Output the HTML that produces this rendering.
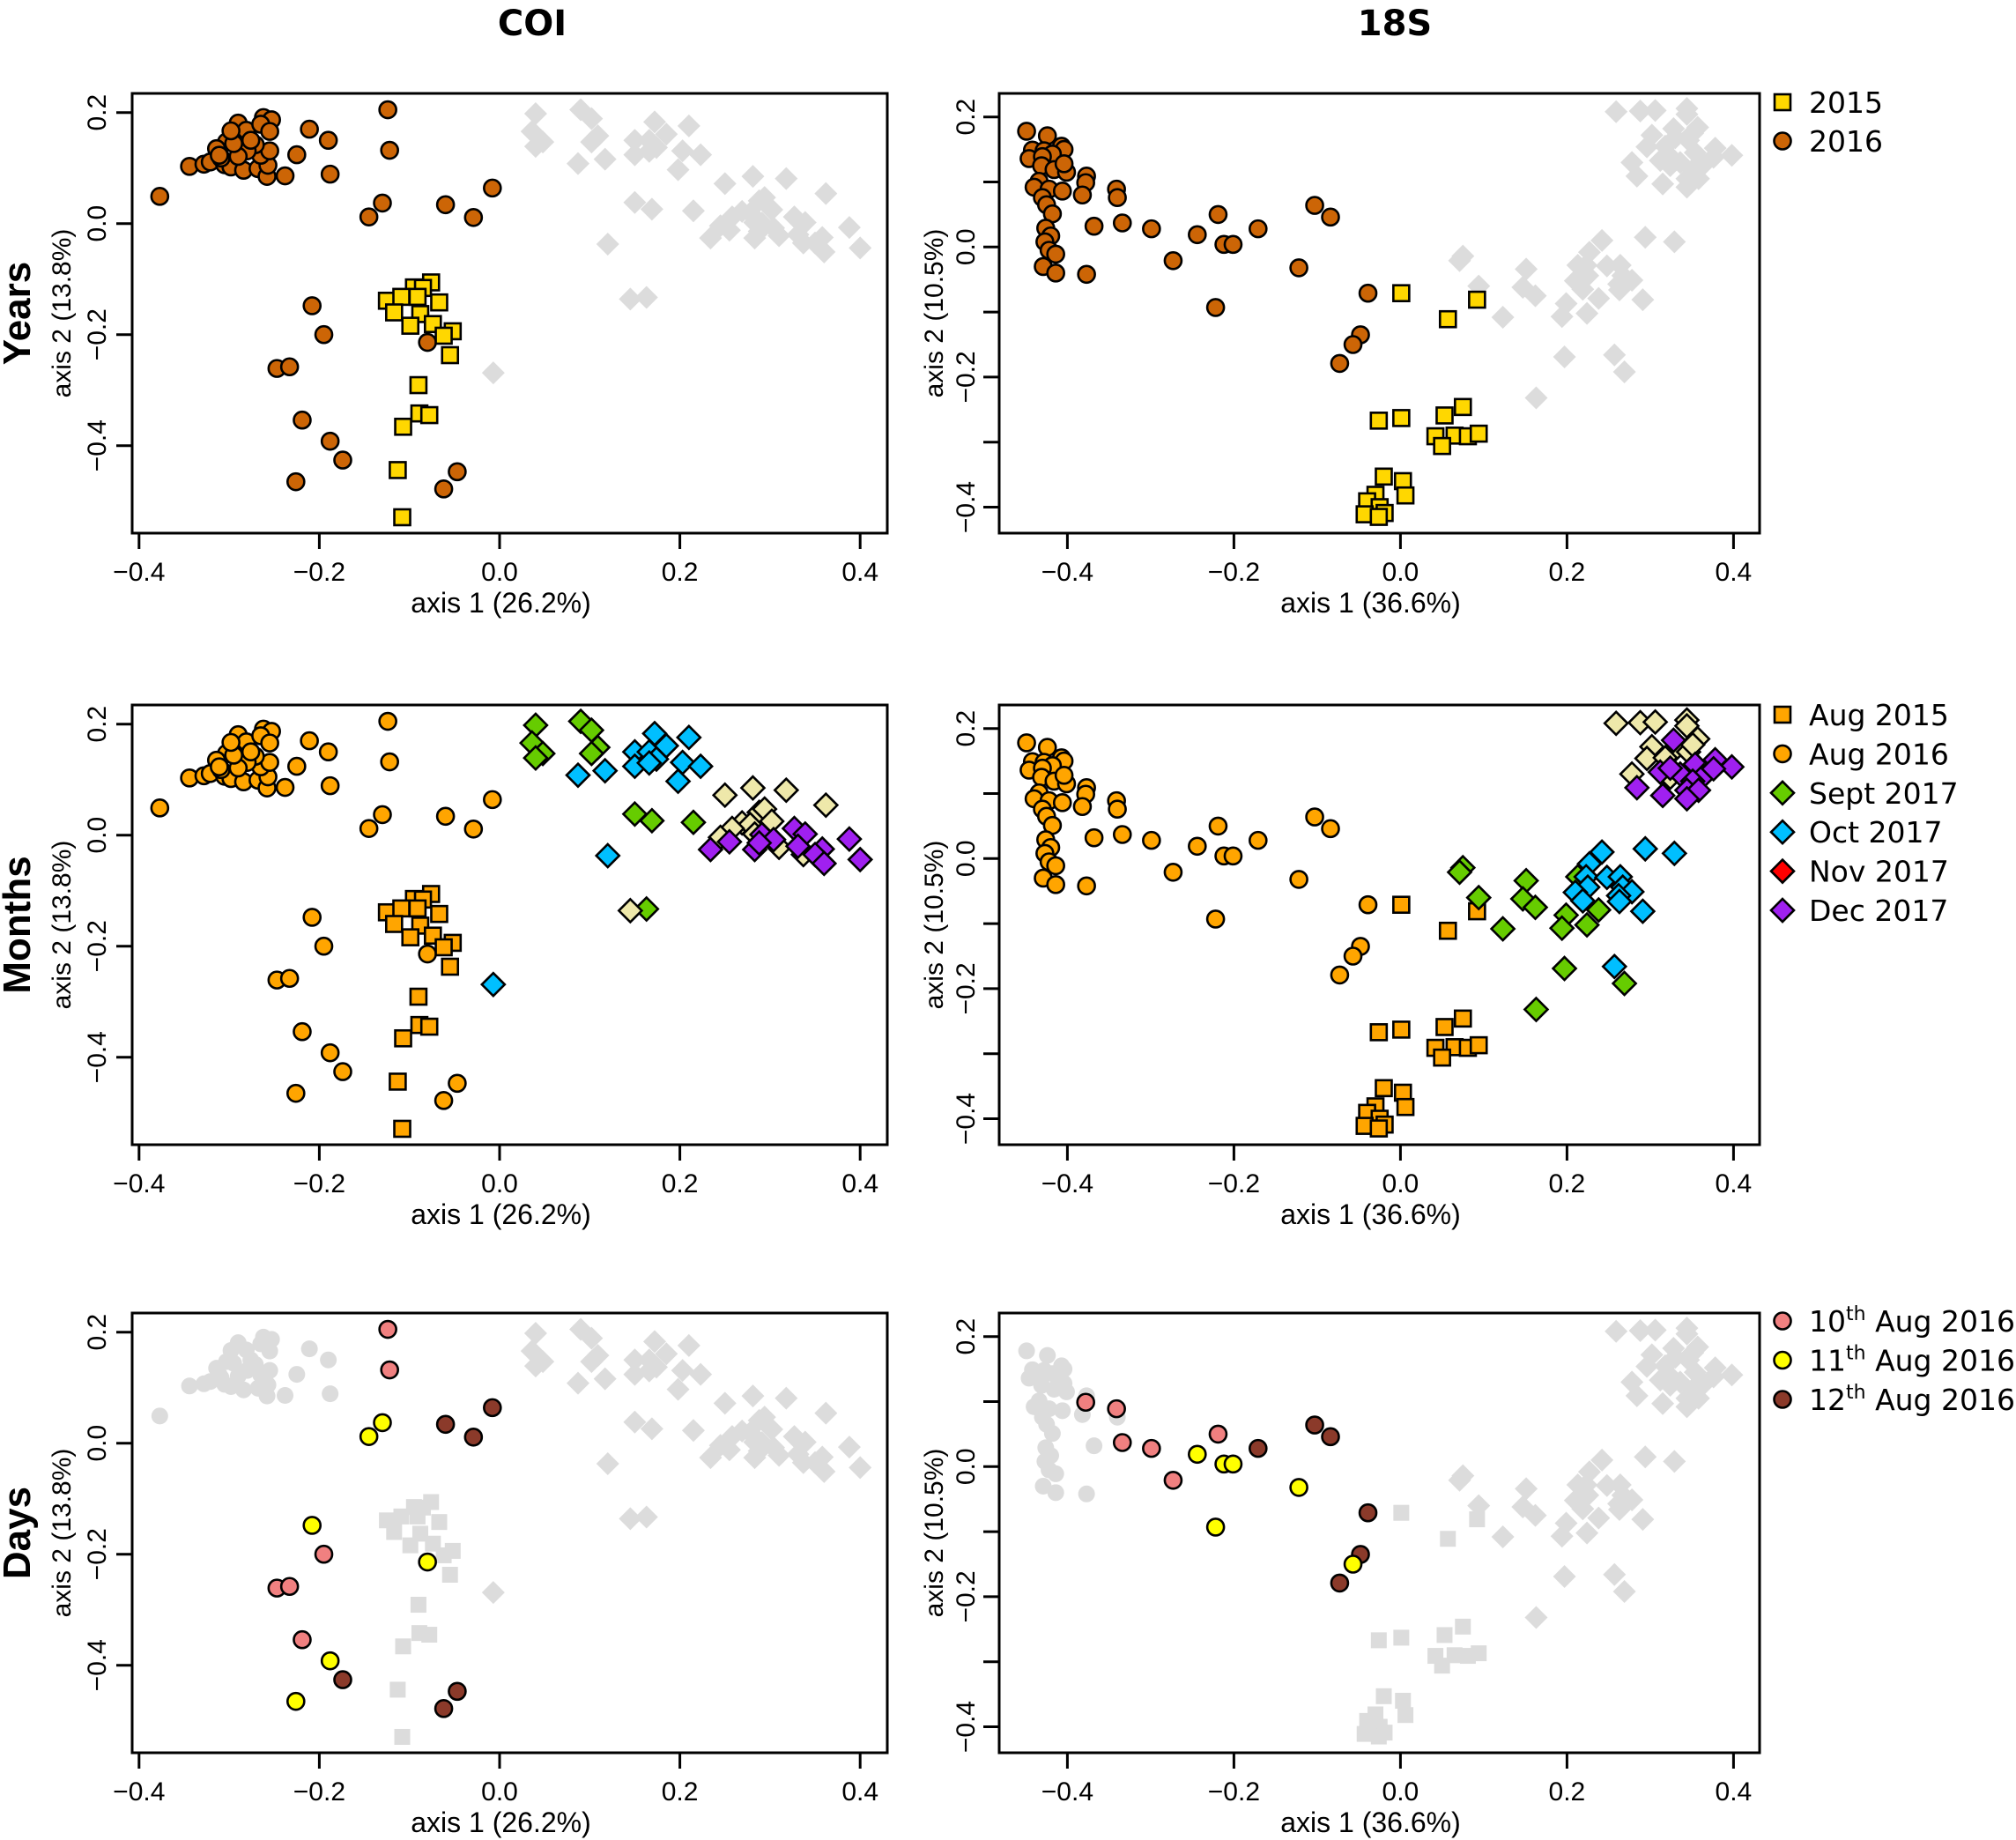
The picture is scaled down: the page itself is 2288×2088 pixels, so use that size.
<!DOCTYPE html>
<html><head><meta charset="utf-8"><title>COI / 18S ordination</title>
<style>html,body{margin:0;padding:0;background:#fff;}svg{display:block;}</style></head>
<body>
<svg id="fig" xmlns="http://www.w3.org/2000/svg" width="2288" height="2088" viewBox="0 0 2288 2088">
<rect x="0" y="0" width="2288" height="2088" fill="#fff"/>
<text x="604" y="40" text-anchor="middle" font-family="DejaVu Sans, sans-serif" font-weight="bold" font-size="40">COI</text>
<text x="1583" y="40" text-anchor="middle" font-family="DejaVu Sans, sans-serif" font-weight="bold" font-size="40">18S</text>
<g id="panels"></g>
<g id="legends"></g>
</svg>
<script>
// ---------- COI data ----------
const coiCircX = [-0.124,-0.122,-0.211,-0.190,-0.225,-0.188,-0.238,-0.377,-0.344,-0.328,-0.321,-0.305,-0.298,-0.284,-0.268,-0.258,-0.257,-0.265,-0.255,-0.271,-0.280,-0.290,-0.303,-0.314,-0.295,-0.290,-0.281,-0.298,-0.262,-0.253,-0.265,-0.255,-0.276,-0.309,-0.311,-0.008,-0.130,-0.060,-0.145,-0.029,-0.208,-0.195,-0.247,-0.233,-0.080,-0.219,-0.188,-0.174,-0.226,-0.047,-0.062];
const coiCircY = [0.205,0.132,0.170,0.150,0.124,0.089,0.086,0.049,0.103,0.107,0.111,0.106,0.102,0.096,0.099,0.085,0.105,0.123,0.131,0.142,0.131,0.121,0.147,0.135,0.144,0.181,0.168,0.167,0.191,0.187,0.179,0.166,0.150,0.118,0.123,0.064,0.037,0.034,0.012,0.011,-0.148,-0.200,-0.261,-0.258,-0.214,-0.354,-0.392,-0.426,-0.465,-0.447,-0.478];
const coiCircDay = ['10','10','','','','','','','','','','','','','','','','','','','','','','','','','','','','','','','','','','12','11','12','11','12','11','10','10','10','11','10','11','12','11','12','12'];
const coiSqX = [-0.076,-0.095,-0.085,-0.125,-0.109,-0.091,-0.067,-0.117,-0.088,-0.099,-0.074,-0.052,-0.062,-0.055,-0.090,-0.089,-0.078,-0.107,-0.113,-0.108];
const coiSqY = [-0.106,-0.115,-0.116,-0.139,-0.132,-0.132,-0.142,-0.160,-0.163,-0.184,-0.181,-0.194,-0.202,-0.237,-0.291,-0.342,-0.345,-0.366,-0.444,-0.529];
const coiDiaX = [0.040,0.090,0.102,0.036,0.048,0.040,0.109,0.102,0.150,0.169,0.215,0.163,
  0.172,0.210,0.150,0.166,0.185,0.174,0.150,0.166,0.203,0.223,0.117,0.087,0.198,0.120,-0.007,
  0.250,0.281,0.318,0.362,0.288,0.294,0.302,0.269,0.278,0.258,0.245,0.283,0.310,0.337,0.145,
  0.327,0.339,0.291,0.304,0.255,0.234,0.283,0.331,0.358,0.350,0.360,0.388,0.400,0.288];
const coiDiaY = [0.198,0.205,0.189,0.166,0.147,0.139,0.158,0.147,0.038,0.026,0.023,-0.133,
  0.183,0.176,0.150,0.150,0.161,0.137,0.124,0.130,0.131,0.124,0.116,0.108,0.097,-0.037,-0.269,
  0.072,0.085,0.081,0.054,0.041,0.047,0.025,0.022,0.019,0.012,-0.004,0.002,-0.022,-0.035,-0.136,
  0.012,0.002,0.001,-0.008,-0.012,-0.026,-0.026,-0.020,-0.025,-0.035,-0.051,-0.007,-0.044,-0.014];
const coiDiaMonth = ['sep','sep','sep','sep','sep','sep','sep','sep','sep','sep','sep','sep',
  'oct','oct','oct','oct','oct','oct','oct','oct','oct','oct','oct','oct','oct','oct','oct',
  'oth','oth','oth','oth','oth','oth','oth','oth','oth','oth','oth','oth','oth','oth','oth',
  'dec','dec','dec','dec','dec','dec','dec','dec','dec','dec','dec','dec','dec','dec'];
// ---------- 18S data ----------
const s18CircX = [-0.449,-0.424,-0.442,-0.407,-0.404,-0.428,-0.418,-0.446,-0.430,-0.431,-0.416,-0.401,-0.404,-0.377,-0.378,-0.434,-0.440,-0.422,-0.406,-0.430,-0.425,-0.418,-0.382,-0.341,-0.340,-0.426,-0.420,-0.427,-0.422,-0.414,-0.429,-0.414,-0.377,-0.368,-0.334,-0.299,-0.273,-0.244,-0.219,-0.212,-0.201,-0.171,-0.222,-0.122,-0.103,-0.084,-0.039,-0.048,-0.057,-0.073];
const s18CircY = [0.178,0.171,0.149,0.155,0.150,0.148,0.143,0.136,0.139,0.125,0.119,0.115,0.128,0.109,0.099,0.101,0.092,0.089,0.086,0.076,0.065,0.051,0.080,0.089,0.076,0.029,0.017,0.008,-0.005,-0.011,-0.030,-0.040,-0.042,0.032,0.037,0.028,-0.021,0.019,0.050,0.004,0.004,0.028,-0.093,-0.032,0.064,0.046,-0.071,-0.135,-0.150,-0.179];
const s18CircDay = ['','','','','','','','','','','','','','','10','','','','','','','','','10','','','','','','','','','','','10','10','10','11','10','11','11','12','11','11','12','12','12','12','11','12'];
const s18SqX = [0.001,0.092,0.057,-0.026,0.001,0.053,0.075,0.042,0.065,0.081,0.094,0.050,-0.020,0.003,0.006,-0.030,-0.040,-0.025,-0.019,-0.043,-0.026];
const s18SqY = [-0.071,-0.081,-0.111,-0.267,-0.263,-0.259,-0.246,-0.291,-0.290,-0.291,-0.287,-0.306,-0.353,-0.360,-0.382,-0.381,-0.391,-0.400,-0.409,-0.411,-0.415];
const s18DiaX = [0.075,0.071,0.094,0.151,0.147,0.162,0.199,0.194,0.224,0.238,0.213,0.123,0.197,0.269,0.163,
  0.242,0.227,0.223,0.225,0.210,0.219,0.248,0.264,0.267,0.278,0.262,0.263,0.294,0.329,0.291,0.257,
  0.259,0.288,0.306,0.344,0.344,0.357,0.302,0.330,0.346,0.296,0.318,0.278,0.324,0.351,
  0.328,0.354,0.378,0.398,0.312,0.336,0.364,0.376,0.351,0.284,0.315,0.344,0.358,0.344,0.324];
const s18DiaY = [-0.014,-0.021,-0.060,-0.034,-0.062,-0.075,-0.087,-0.107,-0.102,-0.079,-0.028,-0.108,-0.169,-0.192,-0.232,
  0.010,-0.008,-0.028,-0.044,-0.052,-0.065,-0.029,-0.028,-0.044,-0.051,-0.057,-0.066,0.015,0.008,-0.081,-0.166,
  0.208,0.209,0.210,0.213,0.204,0.184,0.172,0.168,0.164,0.154,0.155,0.130,0.125,0.175,
  0.182,0.145,0.152,0.141,0.133,0.130,0.127,0.138,0.119,0.109,0.097,0.105,0.105,0.092,0.139];
const s18DiaMonth = ['sep','sep','sep','sep','sep','sep','sep','sep','sep','sep','sep','sep','sep','sep','sep',
  'oct','oct','oct','oct','oct','oct','oct','oct','oct','oct','oct','oct','oct','oct','oct','oct',
  'oth','oth','oth','oth','oth','oth','oth','oth','oth','oth','oth','oth','oth','oth',
  'dec','dec','dec','dec','dec','dec','dec','dec','dec','dec','dec','dec','dec','dec','dec'];
// tick labels
const coiXTicks = [-0.4,-0.2,0.0,0.2,0.4];
const coiYTicks = [0.2,0.0,-0.2,-0.4];
const s18XTicks = [-0.4,-0.2,0.0,0.2,0.4];
const s18YTicks = [0.2,0.1,0.0,-0.1,-0.2,-0.3,-0.4];
const s18YLabeled = [0.2,0.0,-0.2,-0.4];
const rowNames = ['Years','Months','Days'];
const coiAxis1 = 'axis 1 (26.2%)', coiAxis2 = 'axis 2 (13.8%)';
const s18Axis1 = 'axis 1 (36.6%)', s18Axis2 = 'axis 2 (10.5%)';

const NS = 'http://www.w3.org/2000/svg';
const GRAY = '#dcdcdc';
const COL = {y2015:'#ffd700', y2016:'#cc6506', aug:'#ffa500', sep:'#66cc00', oct:'#00bfff', nov:'#ff0000', dec:'#a020f0', oth:'#eee8aa', d10:'#f08080', d11:'#ffff00', d12:'#8b3a2a'};
function el(tag, attrs, parent){const e=document.createElementNS(NS,tag);for(const k in attrs)e.setAttribute(k,attrs[k]);if(parent)parent.appendChild(e);return e;}
function fmt(v){const s=Math.abs(v).toFixed(1);return (v<0?'\u2212':'')+s;}

const rowOff = [-694, 0, 690];
const geo = {
  coi:{left:150,right:1007,x0:567,xs:1023,y0:947.7,ys:630,ytx:110,ylab:70},
  s18:{left:1134,right:1997,x0:1589.4,xs:945,y0:974.3,ys:738,ytx:1096,ylab:1060}
};
const panels = document.getElementById('panels');
function marker(g, shape, cx, cy, fill, stroke){
  let m;
  if(shape==='circle') m=el('circle',{cx:cx,cy:cy,r:9.5},g);
  else if(shape==='square') m=el('rect',{x:cx-9,y:cy-9,width:18,height:18},g);
  else m=el('polygon',{points:`${cx},${cy-13} ${cx+13},${cy} ${cx},${cy+13} ${cx-13},${cy}`},g);
  m.setAttribute('fill',fill);
  if(stroke){m.setAttribute('stroke','#000');m.setAttribute('stroke-width','2.6');}
  return m;
}
function drawPanel(gene,row){
  const G=geo[gene], off=rowOff[row];
  const top=800+off, bot=1299+off;
  const X=v=>G.x0+v*G.xs, Y=v=>G.y0+off-v*G.ys;
  const g=el('g',{},panels);
  
  
  const frame=el('rect',{x:G.left,y:top,width:G.right-G.left,height:bot-top,fill:'none',stroke:'#000','stroke-width':3},g);
  
  
  const xt = gene==='coi'?coiXTicks:s18XTicks;
  const yt = gene==='coi'?coiYTicks:s18YTicks;
  const ylabeled = gene==='coi'?coiYTicks:s18YLabeled;
  xt.forEach(v=>{
    el('line',{x1:X(v),x2:X(v),y1:bot,y2:bot+18,stroke:'#000','stroke-width':3},g);
    const t=el('text',{x:X(v),y:bot+54,'text-anchor':'middle','font-family':'Liberation Sans, sans-serif','font-size':30},g);
    t.textContent=fmt(v);
    
    
  });
  yt.forEach(v=>{
    el('line',{x1:G.left,x2:G.left-18,y1:Y(v),y2:Y(v),stroke:'#000','stroke-width':3},g);
    if(ylabeled.indexOf(v)>=0){
      const t=el('text',{x:G.ytx+10,y:Y(v),'text-anchor':'middle','font-family':'Liberation Sans, sans-serif','font-size':30,transform:`rotate(-90 ${G.ytx+10} ${Y(v)})`},g);
      t.textContent=fmt(v);
      
      
    }
  });
  const xl=el('text',{x:(G.left+G.right)/2-10,y:bot+90,'text-anchor':'middle','font-family':'Liberation Sans, sans-serif','font-size':32},g);
  xl.textContent = gene==='coi'?coiAxis1:s18Axis1;
  
  
  const yc=(top+bot)/2;
  const yl=el('text',{x:G.ylab+10,y:yc,'text-anchor':'middle','font-family':'Liberation Sans, sans-serif','font-size':30,transform:`rotate(-90 ${G.ylab+10} ${yc})`},g);
  yl.textContent = gene==='coi'?coiAxis2:s18Axis2;
  
  
  if(gene==='coi'){
    const rl=el('text',{x:34,y:yc,'text-anchor':'middle','font-family':'Liberation Sans, sans-serif','font-weight':'bold','font-size':44,transform:`rotate(-90 34 ${yc})`},g);
    rl.textContent=rowNames[row];
    
    
  }
  const cx = gene==='coi'?coiCircX:s18CircX, cy = gene==='coi'?coiCircY:s18CircY, cd = gene==='coi'?coiCircDay:s18CircDay;
  const sx = gene==='coi'?coiSqX:s18SqX, sy = gene==='coi'?coiSqY:s18SqY;
  const dx = gene==='coi'?coiDiaX:s18DiaX, dy = gene==='coi'?coiDiaY:s18DiaY, dm = gene==='coi'?coiDiaMonth:s18DiaMonth;
  const pts=el('g',{},g);
  
  
  if(row===0){
    dx.forEach((v,i)=>{const m=marker(pts,'diamond',X(v),Y(dy[i]),GRAY,false);});
    cx.forEach((v,i)=>{const m=marker(pts,'circle',X(v),Y(cy[i]),COL.y2016,true);});
    sx.forEach((v,i)=>{const m=marker(pts,'square',X(v),Y(sy[i]),COL.y2015,true);});
  } else if(row===1){
    cx.forEach((v,i)=>{const m=marker(pts,'circle',X(v),Y(cy[i]),COL.aug,true);});
    sx.forEach((v,i)=>{const m=marker(pts,'square',X(v),Y(sy[i]),COL.aug,true);});
    dx.forEach((v,i)=>{const m=marker(pts,'diamond',X(v),Y(dy[i]),COL[dm[i]],true);});
  } else {
    dx.forEach((v,i)=>{const m=marker(pts,'diamond',X(v),Y(dy[i]),GRAY,false);});
    sx.forEach((v,i)=>{const m=marker(pts,'square',X(v),Y(sy[i]),GRAY,false);});
    cx.forEach((v,i)=>{if(!cd[i]){const m=marker(pts,'circle',X(v),Y(cy[i]),GRAY,false);}});
    cx.forEach((v,i)=>{if(cd[i]){const m=marker(pts,'circle',X(v),Y(cy[i]),COL['d'+cd[i]],true);}});
  }
}
for(let r=0;r<3;r++){drawPanel('coi',r);drawPanel('s18',r);}

// legends
const legYearsLabels=['2015','2016'];
const legMonthLabels=['Aug 2015','Aug 2016','Sept 2017','Oct 2017','Nov 2017','Dec 2017'];
const legDayNums=['10','11','12'];
const lg=document.getElementById('legends');
function legendRow(shape,fill,y,name){
  const g=el('g',{},lg);
  
  
  marker(g,shape,2023,y,fill,true);
  return g;
}
legYearsLabels.forEach((s,i)=>{
  const g=legendRow(i===0?'square':'circle', i===0?COL.y2015:COL.y2016, 116+i*44, 'legend-entry-'+s);
  const t=el('text',{x:2053,y:116+i*44+12,'font-family':'DejaVu Sans, sans-serif','font-size':33},g);t.textContent=s;
});
const mShapes=['square','circle','diamond','diamond','diamond','diamond'];
const mCols=[COL.aug,COL.aug,COL.sep,COL.oct,COL.nov,COL.dec];
legMonthLabels.forEach((s,i)=>{
  const y=811+i*44.4;
  const g=legendRow(mShapes[i],mCols[i],y,'legend-entry-'+s.toLowerCase().replace(' ','-'));
  const t=el('text',{x:2053,y:y+12,'font-family':'DejaVu Sans, sans-serif','font-size':33},g);t.textContent=s;
});
legDayNums.forEach((d,i)=>{
  const y=1499+i*44.5;
  const g=legendRow('circle',COL['d'+d],y,'legend-entry-'+d+'th-aug-2016');
  const t=el('text',{x:2053,y:y+12,'font-family':'DejaVu Sans, sans-serif','font-size':33},g);
  t.appendChild(document.createTextNode(d));
  const sup=el('tspan',{dy:-13,'font-size':22},t);sup.textContent='th';
  const rest=el('tspan',{dy:13,'font-size':33},t);rest.textContent=' Aug 2016';
});
</script>
</body></html>
